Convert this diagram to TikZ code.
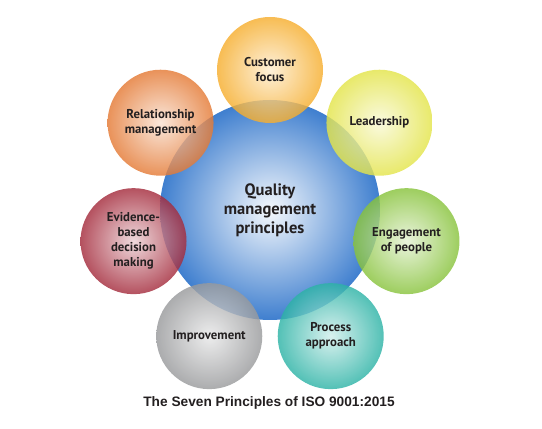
\documentclass[tikz,border=0pt]{standalone}
\usepackage{fontspec}
\setmainfont{PT Sans}
\newfontfamily\capfont{Liberation Sans}

\definecolor{qmblue}{HTML}{3F7FCF}
\definecolor{cforange}{HTML}{F6AE2E}
\definecolor{ldyellow}{HTML}{E3E44A}
\definecolor{epgreen}{HTML}{88C33C}
\definecolor{pateal}{HTML}{2DB3A6}
\definecolor{imgrey}{HTML}{999A9C}
\definecolor{ebred}{HTML}{A42B3C}
\definecolor{rmorange}{HTML}{E47A35}
\definecolor{labeltext}{HTML}{231F20}

\begin{document}
\begin{tikzpicture}[x=1pt,y=1pt,
  principle/.style={circle, minimum size=106pt, inner sep=0pt, align=center,
    font=\bfseries\fontsize{12.8}{15}\selectfont, text=labeltext,
    fill opacity=0.82, text opacity=1}]
\useasboundingbox (0,0) rectangle (542,429);
% centre circle
\node[principle, minimum size=220pt, inner color=qmblue!5, outer color=qmblue,
  font=\bfseries\fontsize{16.5}{19}\selectfont, fill opacity=1] (qmp) at (270,219)
  {Quality\\management\\principles};
% the seven principles round it
\foreach \a/\c/\n/\t in {90/cforange/cf/{Customer\\focus},
    38.57/ldyellow/ld/{Leadership},
    -12.86/epgreen/ep/{Engagement\\of people},
    -64.29/pateal/pa/{Process\\approach},
    -115.71/imgrey/im/{Improvement},
    -167.14/ebred/eb/{Evidence-\\based\\decision\\making},
    141.43/rmorange/rm/{Relationship\\management}}
  \node[principle, inner color=\c!22, outer color=\c] (\n)
    at ([shift={(\a:140)}]qmp.center) {\t};
\node[font=\capfont\bfseries\fontsize{13.7}{16}\selectfont, text=labeltext] (caption) at (269,26)
  {The Seven Principles of ISO 9001:2015};
\end{tikzpicture}
\end{document}
